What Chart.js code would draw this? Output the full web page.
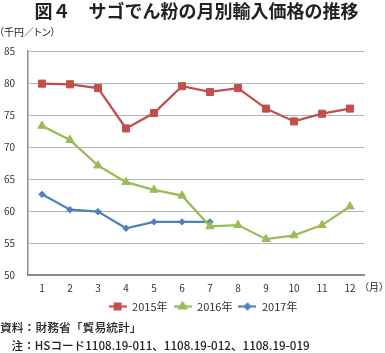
<!DOCTYPE html>
<html lang="ja">
<head>
<meta charset="utf-8">
<script src="https://cdn.jsdelivr.net/npm/chart.js@4/dist/chart.umd.min.js"></script>
<style>
	html, body {
		margin: 0;
		padding: 0;
		background: #fff;
	}

	#wrap {
		position: relative;
		width: 385px;
		height: 353px;
		overflow: hidden;
		font-family: "Noto Sans CJK JP", "Noto Sans", sans-serif;
		color: #222;
	}

	#chart-box {
		position: absolute;
		left: 0;
		top: 0;
		width: 385px;
		height: 322px;
	}

	.txt {
		position: absolute;
		white-space: nowrap;
	}

	#title {
		left: 0;
		width: 393px;
		top: -3px;
		text-align: center;
		font-size: 18px;
		font-weight: bold;
		line-height: 26px;
	}

	#y-unit {
		left: -1px;
		top: 25px;
		font-size: 10px;
		line-height: 14px;
		font-feature-settings: "palt";
	}

	#x-unit {
		left: 364px;
		top: 280px;
		font-size: 10px;
		line-height: 14px;
		font-feature-settings: "palt";
	}

	#source {
		left: 0;
		top: 319px;
		font-size: 11.8px;
		line-height: 16px;
		font-weight: 500;
	}

	#note {
		left: 0;
		top: 337px;
		font-size: 11.6px;
		line-height: 16px;
		font-weight: 500;
	}
</style>
</head>
<body>
<div id="wrap">
	<div id="chart-box"><canvas id="chart" width="385" height="322"></canvas></div>
	<div class="txt" id="title">図４　サゴでん粉の月別輸入価格の推移</div>
	<div class="txt" id="y-unit">（千円／トン）</div>
	<div class="txt" id="x-unit">（月）</div>
	<div class="txt" id="source">資料：財務省「貿易統計」</div>
	<div class="txt" id="note">　注：HSコード1108.19-011、1108.19-012、1108.19-019</div>
</div>
<script>
const months = ['1', '2', '3', '4', '5', '6', '7', '8', '9', '10', '11', '12'];
const seriesNames = ['2015年', '2016年', '2017年'];
const values2015 = [79.9, 79.8, 79.2, 72.9, 75.3, 79.5, 78.6, 79.2, 76.0, 74.0, 75.2, 76.0];
const values2016 = [73.3, 71.1, 67.1, 64.5, 63.3, 62.4, 57.6, 57.8, 55.6, 56.2, 57.8, 60.7];
const values2017 = [62.6, 60.2, 59.9, 57.3, 58.3, 58.3, 58.3, null, null, null, null, null];
const yTicks = [50, 55, 60, 65, 70, 75, 80, 85];

const colors = ['#c0504d', '#9bbb59', '#4f81bd'];
const pointStyles = ['rect', 'triangle', 'rectRot'];
const pointRadii = [5, 4.8, 3.2];

const FONT = '"Noto Sans CJK JP", "Noto Sans", sans-serif';
const LEGEND_SHIFT = 21;

function makeLegendIcon(color, style, radius) {
	const icon = document.createElement('canvas');
	icon.width = 18;
	icon.height = 12;
	const ctx = icon.getContext('2d');

	ctx.strokeStyle = color;
	ctx.lineWidth = 2.25;
	ctx.beginPath();
	ctx.moveTo(0, 6);
	ctx.lineTo(18, 6);
	ctx.stroke();

	Chart.helpers.drawPoint(ctx, {
		pointStyle: style,
		radius: radius,
		rotation: 0,
		borderWidth: 1
	}, 9, 6);
	ctx.fillStyle = color;
	ctx.fill();

	return icon;
}

const legendIcons = colors.map((color, index) => makeLegendIcon(color, pointStyles[index], pointRadii[index] * 0.8));

function buildDataset(label, data, index) {
	return {
		label,
		data,
		borderColor: colors[index],
		backgroundColor: colors[index],
		borderWidth: 2.25,
		pointStyle: pointStyles[index],
		pointRadius: pointRadii[index],
		pointHoverRadius: pointRadii[index],
		pointBorderWidth: 1,
		pointBorderColor: colors[index],
		pointBackgroundColor: colors[index],
		tension: 0,
		spanGaps: false
	};
}

const datasets = [values2015, values2016, values2017].map((values, index) => buildDataset(seriesNames[index], values, index));

// the legend in the source sits a little right of centre
const shiftLegend = {
	id: 'shiftLegend',
	afterLayout(chart) {
		if (chart.legend) {
			chart.legend.left += LEGEND_SHIFT;
			chart.legend.right += LEGEND_SHIFT;
		}
	}
};

new Chart(document.getElementById('chart').getContext('2d'), {
	type: 'line',
	data: {
		labels: months,
		datasets
	},
	plugins: [shiftLegend],
	options: {
		responsive: false,
		animation: false,
		events: [],
		layout: {
			padding: {
				top: 51,
				right: 21,
				left: 0,
				bottom: 0
			}
		},
		plugins: {
			legend: {
				position: 'bottom',
				labels: {
					usePointStyle: true,
					pointStyleWidth: 18,
					padding: 6,
					color: '#333',
					font: {
						family: FONT,
						size: 11
					},
					generateLabels(chart) {
						const items = Chart.defaults.plugins.legend.labels.generateLabels(chart);
						return items.map((item, index) => Object.assign(item, { pointStyle: legendIcons[index] }));
					}
				}
			},
			tooltip: {
				enabled: false
			}
		},
		scales: {
			x: {
				offset: true,
				grid: {
					display: false,
					drawTicks: false
				},
				border: {
					display: true,
					color: '#8c8c8c',
					width: 2
				},
				ticks: {
					padding: 7,
					color: '#333',
					maxRotation: 0,
					font: {
						family: FONT,
						size: 10
					}
				},
				afterFit(scale) {
					scale.height = 20;
				}
			},
			y: {
				min: 50,
				max: 85,
				grid: {
					color: '#b3b3b3',
					lineWidth: 1,
					drawTicks: false
				},
				border: {
					display: true,
					color: '#8c8c8c',
					width: 1.5
				},
				afterBuildTicks(scale) {
					scale.ticks = yTicks.map((value) => ({ value }));
				},
				ticks: {
					padding: 13,
					color: '#333',
					font: {
						family: FONT,
						size: 10
					}
				},
				afterFit(scale) {
					scale.width = 28;
				}
			}
		}
	}
});
</script>
</body>
</html>
